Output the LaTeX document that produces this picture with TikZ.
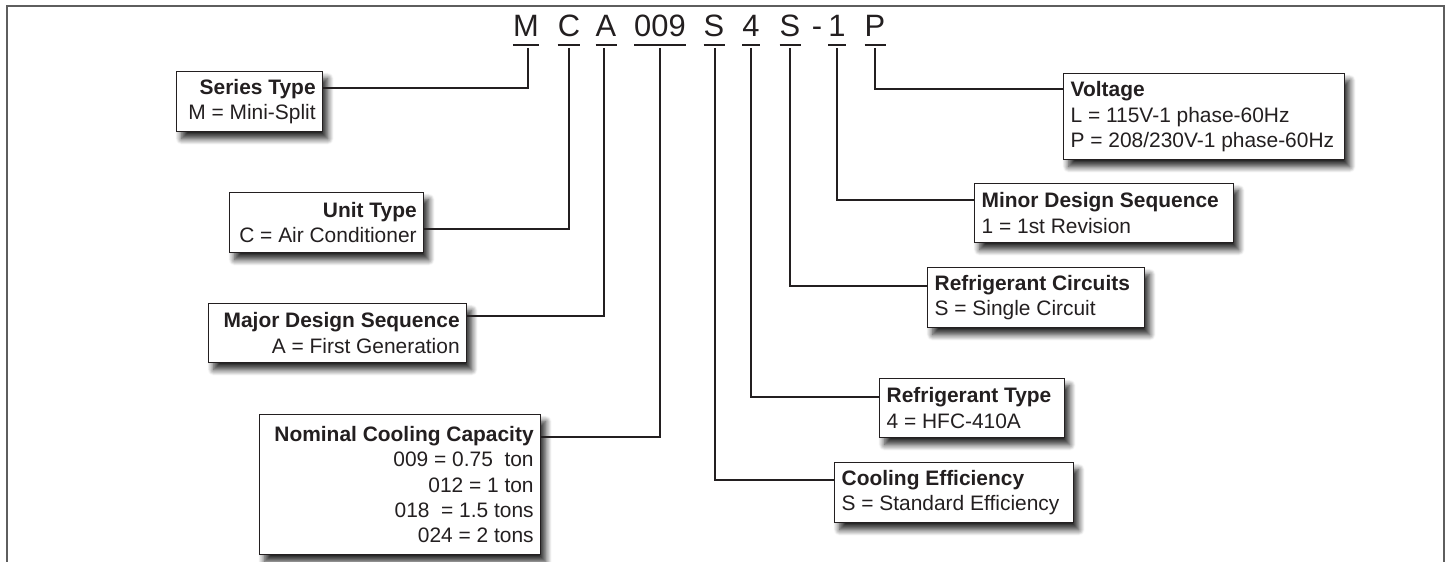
\documentclass[tikz,border=0pt]{standalone}
\usepackage{fontspec}
\setmainfont{Liberation Sans}
\usetikzlibrary{shadows.blur}
\definecolor{txt}{HTML}{231F20}
\definecolor{framec}{HTML}{5E5E5E}
\newcommand{\boxline}[1]{\mbox{#1}}
\begin{document}
\begin{tikzpicture}[x=1bp,y=-1bp,
  box/.style={draw=txt, line width=1.3bp, fill=white,
    blur shadow={shadow xshift=5bp, shadow yshift=-7bp, shadow blur radius=6bp, shadow blur steps=12, shadow opacity=85},
    inner xsep=7bp, inner ysep=0pt, font=\fontsize{21}{25.5}\selectfont, text=txt, anchor=north west},
  rbox/.style={box, align=flush right},
  lbox/.style={box, align=flush left},
  code/.style={font=\fontsize{31}{31}\selectfont, text=txt, inner sep=0pt, anchor=base},
  uline/.style={draw=txt, line width=2.2bp},
  conn/.style={draw=txt, line width=2.2bp},
  framel/.style={draw=framec, line width=2.2bp}]
\useasboundingbox (0,0) rectangle (1448,562);
\draw[framel] (7,563) -- (7,6) -- (1444,6) -- (1444,563);
% code letters
\node[code] (cM) at (526,37) {M};
\node[code] (cC) at (569,37) {C};
\node[code] (cA) at (606,37) {A};
\node[code] (c009) at (660,37) {009};
\node[code] (cS1) at (714,37) {S};
\node[code] (c4) at (751,37) {4};
\node[code] (cS2) at (790,37) {S};
\node[code] (cdash) at (817,37) {-};
\node[code] (c1) at (837,37) {1};
\node[code] (cP) at (875,37) {P};
\foreach \n in {cM,cC,cA,c009,cS1,c4,cS2,c1,cP}{
  \draw[uline] ([yshift=-8bp]\n.base west) -- ([yshift=-8bp]\n.base east);
}
% tick starts
\coordinate (tM) at (528,48);
\coordinate (tC) at (569,48);
\coordinate (tA) at (604,48);
\coordinate (t009) at (660,48);
\coordinate (tS1) at (715,48);
\coordinate (t4) at (751,48);
\coordinate (tS2) at (790,48);
\coordinate (t1) at (837,48);
\coordinate (tP) at (875,48);
% boxes
\node[rbox, text width=132bp, minimum height=60bp] (series) at (176,71) {\boxline{\textbf{Series Type}}\\\boxline{M = Mini-Split}};
\node[rbox, text width=180bp, minimum height=60bp] (unit) at (229,192) {\boxline{\textbf{Unit Type}}\\\boxline{C = Air Conditioner}};
\node[rbox, text width=244bp, minimum height=59bp] (major) at (208,303) {\boxline{\textbf{Major Design Sequence}}\\\boxline{A = First Generation}};
\node[rbox, text width=267bp, minimum height=140bp] (nominal) at (259,414) {\boxline{\textbf{Nominal Cooling Capacity}}\\\boxline{009 = 0.75\ \ ton}\\\boxline{012 = 1 ton}\\\boxline{018\ \ = 1.5 tons}\\\boxline{024 = 2 tons}};
\node[lbox, text width=267bp, minimum height=86bp] (volt) at (1063,73) {\boxline{\textbf{Voltage}}\\\boxline{L = 115V-1 phase-60Hz}\\\boxline{P = 208/230V-1 phase-60Hz}};
\node[lbox, text width=245bp, minimum height=59bp] (minor) at (974,183) {\boxline{\textbf{Minor Design Sequence}}\\\boxline{1 = 1st Revision}};
\node[lbox, text width=203bp, minimum height=60bp] (circ) at (927,267) {\boxline{\textbf{Refrigerant Circuits}}\\\boxline{S = Single Circuit}};
\node[lbox, text width=171bp, minimum height=59bp] (rtype) at (879,378) {\boxline{\textbf{Refrigerant Type}}\\\boxline{4 = HFC-410A}};
\node[lbox, text width=225bp, minimum height=60bp] (eff) at (834,462) {\boxline{\textbf{Cooling Efficiency}}\\\boxline{S = Standard Efficiency}};
% connectors
\draw[conn] (tM) |- ([yshift=-17bp]series.north east);
\draw[conn] (tC) |- ([yshift=-37bp]unit.north east);
\draw[conn] (tA) |- ([yshift=-13bp]major.north east);
\draw[conn] (t009) |- ([yshift=-23bp]nominal.north east);
\draw[conn] (tP) |- ([yshift=-16bp]volt.north west);
\draw[conn] (t1) |- ([yshift=-17bp]minor.north west);
\draw[conn] (tS2) |- ([yshift=-19bp]circ.north west);
\draw[conn] (t4) |- ([yshift=-19bp]rtype.north west);
\draw[conn] (tS1) |- ([yshift=-18bp]eff.north west);
\end{tikzpicture}
\end{document}
